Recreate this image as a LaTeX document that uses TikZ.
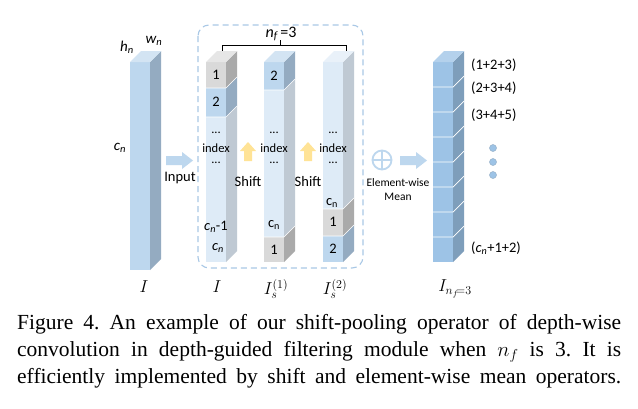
\documentclass[tikz,border=0pt]{standalone}
\usepackage{fontspec}
\setmainfont{Liberation Serif}
\newfontfamily\dfont{Carlito}
\usetikzlibrary{calc}
\definecolor{lb}{HTML}{DEEBF7}
\definecolor{lbside}{HTML}{BFC9D3}
\definecolor{lbtop}{HTML}{E9F1F9}
\definecolor{mb}{HTML}{BDD7EE}
\definecolor{mbside}{HTML}{94ABC1}
\definecolor{mbtop}{HTML}{D3E4F3}
\definecolor{gr}{HTML}{D9D9D9}
\definecolor{grside}{HTML}{AAAAAA}
\definecolor{grtop}{HTML}{E6E6E6}
\definecolor{db}{HTML}{9DC3E6}
\definecolor{dbside}{HTML}{7E9EBB}
\definecolor{dbtop}{HTML}{B4D1EC}
\definecolor{arrowblue}{HTML}{BDD7EE}
\definecolor{shifty}{HTML}{FFE396}
\definecolor{dashc}{HTML}{A9C8E6}
\newcommand\dd{11}
% segment: x0 y0 x1 y1 front side
\newcommand\seg[6]{%
  \fill[#5] (#1,#2) rectangle (#3,#4);
  \fill[#6] (#3,#2) -- (#3+\dd,#2-\dd) -- (#3+\dd,#4-\dd) -- (#3,#4) -- cycle;}
\newcommand\topf[4]{%
  \fill[#4] (#1,#3) -- (#1+\dd,#3-\dd) -- (#2+\dd,#3-\dd) -- (#2,#3) -- cycle;}
\tikzset{
  lbl/.style={font=\dfont\fontsize{14.5}{14.5}\selectfont, inner sep=0pt},
  ilbl/.style={font=\dfont\itshape\fontsize{15}{15}\selectfont, inner sep=0pt},
  small/.style={font=\dfont\fontsize{12.5}{12.5}\selectfont, inner sep=0pt},
  tiny/.style={font=\dfont\fontsize{11.5}{14}\selectfont, inner sep=0pt, align=center},
  mathlbl/.style={font=\fontsize{17}{17}\selectfont, inner sep=0pt},
  capline/.style={font=\fontsize{21.5}{21.5}\selectfont\frenchspacing, inner sep=0pt, anchor=base west},
}
\begin{document}
\begin{tikzpicture}[x=1pt,y=-1pt]
\useasboundingbox (0,0) rectangle (638,408);
\fill[white] (0,0) rectangle (638,408);
% left prism
\seg{130}{62}{150}{270}{mb}{mbside}
\topf{130}{150}{62}{mbtop}
\node[ilbl] (hn) at (127,47) {h\textsubscript{n}};
\node[ilbl] (wn) at (154,41) {w\textsubscript{n}};
\node[ilbl] (cn) at (120,148) {c\textsubscript{n}};
\node[mathlbl] (I0) at (144,287) {$I$};
% input arrow
\fill[arrowblue] (166,156) -- (182,156) -- (182,152) -- (193,160.5) -- (182,169) -- (182,165) -- (166,165) -- cycle;
\node[lbl] (input) at (180,178) {Input};
% dashed box
\draw[dashc, line width=1.1pt, dash pattern=on 6pt off 4pt, rounded corners=11pt] (198,25) rectangle (363,268);
% brace
\draw[line width=1pt] (222,51) -- (222,45) -- (346,45) -- (346,51);
\draw[line width=1pt] (280,45) -- (280,40);
\node[font=\dfont\fontsize{16}{16}\selectfont, inner sep=0pt] (nf) at (281,34) {\textit{n\textsubscript{f}}\,=3};
% column 1
\seg{206}{117}{226}{262}{lb}{lbside}
\seg{206}{88}{226}{117}{mb}{mbside}
\seg{206}{62}{226}{88}{gr}{grside}
\topf{206}{226}{62}{grtop}
\draw[white, line width=0.6pt] (206,88) -- (226,88) -- (237,77) (206,117) -- (226,117) -- (237,106);
\node[lbl] (a1) at (216,75) {1};
\node[lbl] (a2) at (216,102) {2};
\node[small] (ad1) at (216,133) {...};
\node[small] (aidx) at (216,148) {index};
\node[small] (ad2) at (216,163) {...};
\node[lbl] (acn1) at (216,227) {\textit{c\textsubscript{n}}-1};
\node[lbl] (acn) at (218,248) {\textit{c\textsubscript{n}}};
\node[mathlbl] (I1) at (217,287) {$I$};
% column 2
\seg{264}{90}{284}{237}{lb}{lbside}
\seg{264}{237}{284}{262}{gr}{grside}
\seg{264}{62}{284}{90}{mb}{mbside}
\topf{264}{284}{62}{mbtop}
\draw[white, line width=0.6pt] (264,90) -- (284,90) -- (295,79) (264,237) -- (284,237) -- (295,226);
\node[lbl] (b2) at (274,76) {2};
\node[small] (bd1) at (274,133) {...};
\node[small] (bidx) at (274,148) {index};
\node[small] (bd2) at (274,163) {...};
\node[lbl] (bcn) at (274,225) {c\textsubscript{n}};
\node[lbl] (b1) at (274,250) {1};
\node[mathlbl] (I2) at (276,289) {$I_s^{(1)}$};
% column 3
\seg{323}{62}{343}{209}{lb}{lbside}
\seg{323}{209}{343}{236}{gr}{grside}
\seg{323}{236}{343}{262}{mb}{mbside}
\topf{323}{343}{62}{lbtop}
\draw[white, line width=0.6pt] (323,209) -- (343,209) -- (354,198) (323,236) -- (343,236) -- (354,225);
\node[small] (cd1) at (333,133) {...};
\node[small] (cidx) at (333,148) {index};
\node[small] (cd2) at (333,163) {...};
\node[lbl] (ccn) at (332,203) {c\textsubscript{n}};
\node[lbl] (c1) at (333,222) {1};
\node[lbl] (c2) at (333,249) {2};
\node[mathlbl] (I3) at (335,289) {$I_s^{(2)}$};
% shift arrows
\foreach \cx/\nm in {248/s1,308/s2}{
  \fill[shifty] (\cx-4,161) -- (\cx-4,151) -- (\cx-8,151) -- (\cx,142) -- (\cx+8,151) -- (\cx+4,151) -- (\cx+4,161) -- cycle;
  \node[lbl] (\nm) at (\cx,182) {Shift};
}
% element-wise mean
\draw[arrowblue, line width=1.8pt] (382,160) circle (9.5);
\draw[arrowblue, line width=1.8pt] (372.5,160) -- (391.5,160) (382,150.5) -- (382,169.5);
\fill[arrowblue] (400,156) -- (416,156) -- (416,152) -- (427,160.5) -- (416,169) -- (416,165) -- (400,165) -- cycle;
\node[tiny] (ewm) at (398,190) {Element-wise\\Mean};
% right prism
\foreach \k in {0,...,7}{
  \pgfmathsetmacro\ya{62+25*\k}
  \pgfmathsetmacro\yb{87+25*\k}
  \seg{433}{\ya}{453}{\yb}{db}{dbside}
}
\topf{433}{453}{62}{dbtop}
\foreach \k in {1,...,7}{
  \draw[white, line width=0.7pt] (433,62+25*\k) -- (453,62+25*\k) -- (464,51+25*\k);
}
\node[lbl, anchor=west] (r1) at (471,65) {(1+2+3)};
\node[lbl, anchor=west] (r2) at (471,88) {(2+3+4)};
\node[lbl, anchor=west] (r3) at (471,115) {(3+4+5)};
\foreach \yy/\nm in {148/d1,162/d2,175/d3}
  \node[circle, fill=db, draw=dbside!80, line width=0.5pt, minimum size=7pt, inner sep=0pt] (\nm) at (493,\yy) {};
\node[lbl, anchor=west] (r4) at (471,248) {(\textit{c\textsubscript{n}}+1+2)};
\node[mathlbl] (I4) at (455,289) {$I_{n_f\!=3}$};
% caption
\node[capline] (cap1) at (17,329) {\makebox[604pt][s]{Figure 4. An example of our shift-pooling operator of depth-wise}};
\node[capline] (cap2) at (17,356) {\makebox[604pt][s]{convolution in depth-guided filtering module when $n_f$ is 3. It is}};
\node[capline] (cap3) at (17,383) {\makebox[604pt][s]{efficiently implemented by shift and element-wise mean operators.}};
\end{tikzpicture}
\end{document}
